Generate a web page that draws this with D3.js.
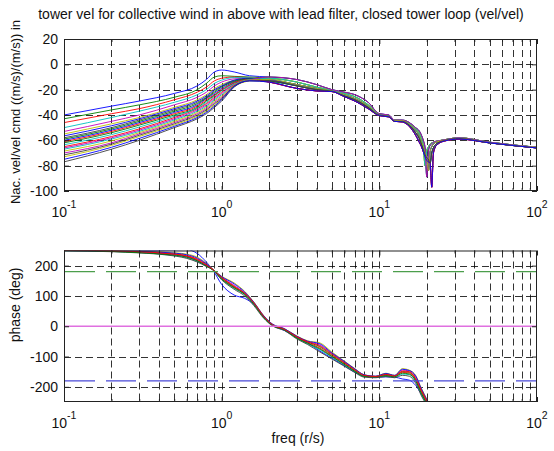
<!DOCTYPE html>
<html><head><meta charset="utf-8">
<script src="https://cdn.jsdelivr.net/npm/d3@7"></script>
<style>
body{margin:0;background:#fff}
svg{display:block}
text{font-family:"Liberation Sans",Arial,sans-serif;fill:#111}
</style>
</head><body>
<svg id="c" width="554" height="451"></svg>
<script>
// ---------- data ----------
const xTicks = [0.1, 1, 10, 100];
const xTickExp = ["-1", "0", "1", "2"];
const magTicks = [-100, -80, -60, -40, -20, 0, 20];
const phaseTicks = [-200, -100, 0, 100, 200];
const titleText = "tower vel for collective wind in above with lead filter, closed tower loop (vel/vel)";
const magLabel = "Nac. vel/vel cmd ((m/s)/(m/s)) in";
const phaseLabel = "phase (deg)";
const xLabel = "freq (r/s)";

// magnitude, low-frequency part (each curve differs)
const fLow = [0.1, 0.2, 0.3, 0.5, 0.7, 0.8, 0.9, 1.0, 1.2, 1.5];
const magLow = [
  [-40, -33, -29, -23, -17, -12, -6, -4.5, -6, -9],
  [-43, -36, -32, -26, -20, -15, -10, -9, -9.5, -10],
  [-46, -39, -35, -28, -22, -18, -13, -11, -10, -10.5],
  [-50, -42, -37, -30, -24, -20, -15, -12.5, -10.5, -10.5],
  [-53, -45, -40, -32, -26, -22, -17, -14, -11.5, -11],
  [-55, -47, -42, -34, -28, -24, -19, -16, -12.5, -11],
  [-58, -50, -44, -36, -30, -26, -21, -17.5, -13, -11.5],
  [-60, -52, -46, -38, -32, -27, -23, -19, -14, -11.5],
  [-62, -54, -48, -40, -34, -29, -24.5, -20.5, -15, -12],
  [-65, -57, -51, -42, -35, -31, -26, -22, -16, -12],
  [-67, -59, -53, -44, -37, -33, -28, -24, -16.5, -12.5],
  [-70, -62, -55, -46, -39, -35, -30, -26, -17, -12.5],
  [-73, -64, -57, -48, -41, -37, -32, -27.5, -17.5, -13],
  [-77, -67, -60, -50, -43, -39, -34, -29, -18, -13],
  [-56.5, -48.5, -43, -35, -29, -25, -20, -17, -12.5, -11],
  [-59, -51, -45, -37, -31, -26.5, -22, -18, -13.5, -11.5],
  [-61, -53, -47, -39, -33, -28, -24, -20, -14.5, -12],
  [-63.5, -55.5, -49.5, -41, -34.5, -30, -25, -21, -15.5, -12],
  [-66, -58, -52, -43, -36, -32, -27, -23, -16, -12.5],
  [-68.5, -60.5, -54, -45, -38, -34, -29, -25, -16.5, -12.5],
  [-71.5, -63, -56, -47, -40, -36, -31, -27, -17, -13],
  [-75, -65.5, -58.5, -49, -42, -38, -33, -28, -17.5, -13]
];
// magnitude, high-frequency part (notch variants)
const fHigh = [2, 3, 4, 5, 6, 7, 8.5, 10, 11.5, 12.5, 14, 15.5, 17, 18, 18.5, 19, 19.5, 20, 20.5, 21, 21.5, 22, 22.5, 23.5, 26, 32, 50, 100];
const magHigh = [
  [-10, -12, -16, -20, -22, -24, -30, -39, -40, -44, -44, -46, -50, -53, -56, -60, -66, -89, -68, -64, -62.5, -61.5, -61, -60.5, -59.5, -58, -61.5, -65.5],
  [-11, -14, -18, -20.5, -23, -25.5, -32, -39.5, -40.5, -44, -44.5, -47, -51, -55, -59, -64, -80, -68, -65, -63, -62, -61.5, -61, -60.5, -59.5, -58, -61.5, -65.5],
  [-12, -16, -19, -21, -24, -27, -33, -40, -41, -44.5, -44.5, -47.5, -52, -57, -61, -65, -70, -74, -84, -69, -65, -63, -62, -61, -60, -58.5, -62, -65.5],
  [-13, -17, -20, -21, -25, -28, -34, -40, -41, -45, -45, -48, -54, -59, -63, -67, -71, -74, -75, -78, -70, -66, -64, -62, -60, -58.5, -62, -66],
  [-14, -19, -21, -21.5, -25.5, -29, -35, -40.5, -41.5, -45, -45.5, -49, -56, -62, -65, -69, -73, -76, -77, -78, -97, -71, -66, -63, -60.5, -59, -62, -66]
];
const magVariant = [0, 1, 2, 3, 4, 1, 2, 3, 0, 4, 2, 3, 1, 4, 2, 3, 4, 1, 0, 2, 3, 4];

// phase curves
const fPhase = [0.1, 0.2, 0.3, 0.45, 0.6, 0.7, 0.8, 0.88, 1.0, 1.2, 1.4, 1.6, 1.85, 2.1, 2.5, 3, 3.5, 4.2, 5, 6, 7, 8, 9.5, 11, 12.5, 14, 15.5, 17, 18.5, 20, 21.5, 23];
const phase = [
  [252, 251, 250, 251, 253, 240, 212, 186, 138, 103, 92, 72, 30, 3, -14, -38, -55, -82, -105, -130, -152, -165, -168, -167, -168, -174, -178, -195, -225, -255, -285, -315],
  [250, 248, 245, 239, 230, 218, 200, 187, 160, 130, 108, 76, 32, 5, -10, -36, -52, -68, -95, -122, -146, -163, -166, -160, -165, -150, -152, -175, -215, -248, -278, -310],
  [251, 249, 246, 241, 233, 222, 204, 188, 158, 128, 106, 74, 30, 4, -11, -37, -54, -72, -98, -125, -148, -164, -167, -162, -166, -152, -155, -178, -220, -252, -282, -312],
  [249, 247, 243, 236, 226, 214, 198, 186, 155, 125, 104, 72, 28, 3, -12, -40, -58, -78, -102, -128, -150, -166, -168, -164, -168, -158, -160, -182, -226, -258, -288, -318],
  [250, 248, 244, 238, 229, 217, 200, 187, 162, 135, 110, 78, 33, 6, -9, -34, -50, -62, -90, -118, -142, -161, -165, -158, -163, -145, -148, -168, -210, -244, -275, -306],
  [251, 250, 248, 244, 238, 228, 208, 188, 165, 143, 115, 80, 35, 7, -8, -32, -48, -55, -85, -115, -140, -160, -165, -155, -162, -140, -145, -162, -205, -240, -272, -304],
  [249, 246, 242, 235, 224, 212, 197, 186, 153, 122, 100, 68, 26, 1, -14, -42, -60, -85, -108, -132, -153, -168, -170, -166, -170, -162, -165, -188, -230, -262, -292, -322],
  [250, 249, 247, 243, 236, 225, 206, 187, 164, 140, 113, 79, 34, 7, -8, -33, -49, -58, -88, -116, -141, -160, -165, -156, -162, -142, -146, -164, -207, -242, -274, -305],
  [250, 247, 243, 237, 228, 216, 199, 186, 156, 127, 105, 73, 29, 3, -12, -39, -56, -75, -100, -126, -149, -165, -167, -163, -167, -155, -158, -180, -222, -255, -285, -315],
  [251, 249, 246, 240, 232, 220, 202, 187, 161, 132, 109, 77, 32, 5, -10, -35, -51, -65, -92, -120, -144, -162, -166, -159, -164, -148, -150, -172, -212, -246, -277, -309]
];
const refLevels = [180, 0, -180];
const refColors = ["#4c9e4c", "#e070e0", "#4a4ad8"];
const lineColors = ["#0000ff", "#008000", "#ff0000", "#00bfbf", "#bf00bf", "#bfbf00", "#404040"];

// ---------- layout ----------
const svg = d3.select("#c");
svg.append("rect").attr("width", 554).attr("height", 451).attr("fill", "#fff");
const L = 64, R = 537;
const x = d3.scaleLog().domain([0.1, 100]).range([L, R]);
const yMag = d3.scaleLinear().domain([-100, 20]).range([191, 39]);
const yPh = d3.scaleLinear().domain([-250, 250]).range([402, 250.5]);

function panel(id, y, yTicks, curves, refs) {
  const [yb, yt] = y.range();
  const g = svg.append("g");
  g.append("clipPath").attr("id", id).append("rect")
    .attr("x", L).attr("y", yt).attr("width", R - L).attr("height", yb - yt);
  // grid
  const grid = g.append("g").attr("stroke", "#000").attr("stroke-width", 1)
    .attr("stroke-dasharray", "7,4").attr("stroke-opacity", 0.8);
  x.ticks().filter(t => t > 0.1 + 1e-9 && t < 100 - 1e-9).forEach(t => {
    grid.append("line").attr("x1", Math.round(x(t)) + 0.5).attr("x2", Math.round(x(t)) + 0.5)
      .attr("y1", yt).attr("y2", yb);
  });
  yTicks.filter(t => t > y.domain()[0] && t < y.domain()[1]).forEach(t => {
    grid.append("line").attr("y1", Math.round(y(t)) + 0.5).attr("y2", Math.round(y(t)) + 0.5)
      .attr("x1", L).attr("x2", R);
  });
  // curves
  const cg = g.append("g").attr("clip-path", `url(#${id})`);
  const line = d3.line().x(d => x(d[0])).y(d => y(d[1])).curve(d3.curveMonotoneX);
  curves.forEach((c, i) => {
    cg.append("path").attr("d", line(c)).attr("fill", "none")
      .attr("stroke", lineColors[i % lineColors.length]).attr("stroke-width", 0.9);
  });
  if (refs) {
    refs.forEach((v, i) => {
      cg.append("line").attr("x1", L).attr("x2", R).attr("y1", y(v)).attr("y2", y(v))
        .attr("stroke", refColors[i]).attr("stroke-width", 1.3)
        .attr("stroke-dasharray", v === 0 ? null : "30,11").attr("stroke-dashoffset", -1);
    });
  }
  // axes (ticks inside, box)
  const minor = x.ticks().filter(t => !xTicks.some(m => Math.abs(m - t) < 1e-9));
  const ax = g.append("g");
  ax.append("g").attr("transform", `translate(0,${yb})`)
    .call(d3.axisBottom(x).tickValues(xTicks).tickSize(-5).tickFormat(""));
  ax.append("g").attr("transform", `translate(0,${yb})`)
    .call(d3.axisBottom(x).tickValues(minor).tickSize(-3).tickFormat(""));
  ax.append("g").attr("transform", `translate(0,${yt})`)
    .call(d3.axisTop(x).tickValues(xTicks).tickSize(-5).tickFormat(""));
  ax.append("g").attr("transform", `translate(0,${yt})`)
    .call(d3.axisTop(x).tickValues(minor).tickSize(-3).tickFormat(""));
  ax.append("g").attr("transform", `translate(${L},0)`)
    .call(d3.axisLeft(y).tickValues(yTicks).tickSize(-5).tickFormat(""));
  ax.append("g").attr("transform", `translate(${R},0)`)
    .call(d3.axisRight(y).tickValues(yTicks).tickSize(-5).tickFormat(""));
  ax.selectAll(".domain").remove();
  ax.selectAll("line").attr("stroke", "#222");
  g.append("rect").attr("x", L + 0.5).attr("y", yt + 0.5).attr("width", R - L - 1).attr("height", yb - yt - 1)
    .attr("fill", "none").attr("stroke", "#222").attr("stroke-width", 1);
  // y tick labels
  yTicks.forEach(t => {
    g.append("text").attr("x", L - 6).attr("y", y(t) + 5).attr("text-anchor", "end")
      .attr("font-size", 14).text(t);
  });
  // x tick labels
  xTicks.forEach((t, i) => {
    const tx = g.append("text").attr("x", x(t)).attr("y", yb + 26).attr("text-anchor", "middle")
      .attr("font-size", 14);
    tx.append("tspan").text("10");
    tx.append("tspan").attr("dy", -9).attr("font-size", 10.5).text(xTickExp[i]);
  });
}

const magCurves = magLow.map((lo, i) =>
  fLow.map((f, k) => [f, lo[k]]).concat(fHigh.map((f, k) => [f, magHigh[magVariant[i]][k]])));
const phCurves = phase.map(p => fPhase.map((f, k) => [f, p[k]]));

panel("clipMag", yMag, magTicks, magCurves, null);
panel("clipPh", yPh, phaseTicks, phCurves, refLevels);

// titles and labels
svg.append("text").attr("x", 281).attr("y", 19).attr("text-anchor", "middle")
  .attr("font-size", 14).text(titleText);
svg.append("text").attr("transform", `translate(20,112) rotate(-90)`)
  .attr("text-anchor", "middle").attr("font-size", 13).text(magLabel);
svg.append("text").attr("transform", `translate(20,305) rotate(-90)`)
  .attr("text-anchor", "middle").attr("font-size", 14).text(phaseLabel);
svg.append("text").attr("x", 298).attr("y", 443).attr("text-anchor", "middle")
  .attr("font-size", 14).text(xLabel);
</script>
</body></html>
